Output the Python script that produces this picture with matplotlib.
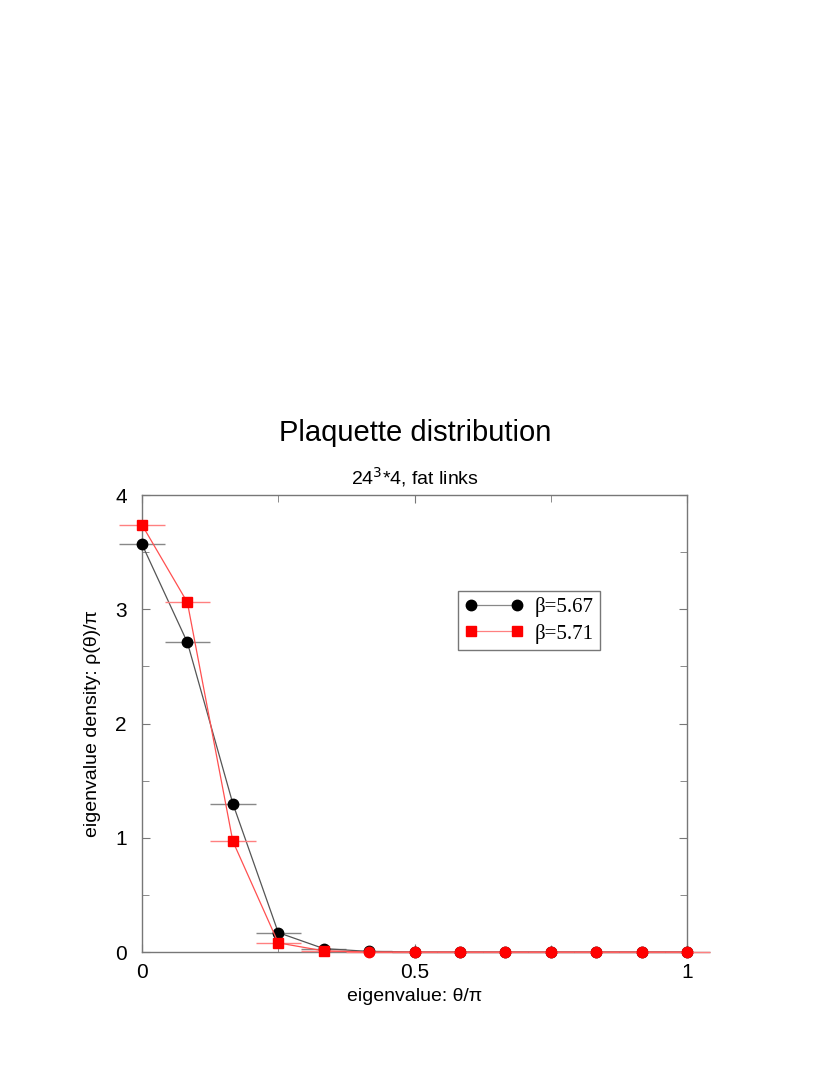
import matplotlib
matplotlib.use("Agg")
import matplotlib.pyplot as plt
from matplotlib.ticker import MultipleLocator
from matplotlib.lines import Line2D

plt.rcParams['font.family'] = ['Liberation Sans', 'DejaVu Sans']

x = [i / 12 for i in range(13)]
rho_567 = [3.57, 2.71, 1.30, 0.17, 0.03, 0.005, 0.0, 0.0, 0.0, 0.0, 0.0, 0.0, 0.0]
rho_571 = [3.74, 3.06, 0.97, 0.08, 0.01, 0.0, 0.0, 0.0, 0.0, 0.0, 0.0, 0.0, 0.0]
xerr = 0.0417
labels = ["β=5.67", "β=5.71"]

fig = plt.figure(figsize=(8.3, 10.75), dpi=100)
ax = fig.add_axes([0.171, 0.1144, 0.657, 0.4251])

ax.errorbar(x, rho_567, xerr=xerr, fmt='none', ecolor='#888888', elinewidth=1, capsize=0, zorder=2, clip_on=False)
ax.plot(x, rho_567, color='#555555', lw=0.9, marker='o', ms=7.5, mfc='black', mec='black',
        zorder=3, clip_on=False)
ax.errorbar(x, rho_571, xerr=xerr, fmt='none', ecolor='#ff8080', elinewidth=1, capsize=0, zorder=4, clip_on=False)
ax.plot(x, rho_571, color='#ff5050', lw=0.9, zorder=5, clip_on=False)
# square markers where distinguishable, round markers where the series sits on zero
ax.plot(x[:5], rho_571[:5], ls='none', marker='s', ms=6.5, mfc='red', mec='red', zorder=6, clip_on=False)
ax.plot(x[5:], rho_571[5:], ls='none', marker='o', ms=7.5, mfc='red', mec='red', zorder=6, clip_on=False)

ax.set_xlim(0, 1)
ax.set_ylim(0, 4)
ax.xaxis.set_major_locator(MultipleLocator(0.5))
ax.xaxis.set_minor_locator(MultipleLocator(0.25))
ax.yaxis.set_major_locator(MultipleLocator(1))
ax.yaxis.set_minor_locator(MultipleLocator(0.5))
ax.xaxis.set_major_formatter(plt.FuncFormatter(lambda v, p: {0: "0", 0.5: "0.5", 1: "1"}.get(round(v, 2), "")))
ax.yaxis.set_major_formatter(plt.FuncFormatter(lambda v, p: f"{int(round(v))}"))
ax.tick_params(which='both', direction='in', top=True, right=True, color='#777777', labelsize=15)
ax.tick_params(axis='x', pad=8)
ax.tick_params(axis='y', pad=11)
ax.tick_params(which='major', length=6)
ax.tick_params(which='minor', length=5)
for s in ax.spines.values():
    s.set_color('#777777')
    s.set_linewidth(1)

ax.set_xlabel("eigenvalue: θ/π", fontsize=14)
ax.set_ylabel("eigenvalue density: ρ(θ)/π", fontsize=14, labelpad=10)

fig.text(0.5, 0.597, "Plaquette distribution", ha='center', va='center', fontsize=21)
fig.text(0.5, 0.556, "24$^{3}$*4, fat links", ha='center', va='center', fontsize=14)

handles = [
    Line2D([], [], color='#888888', lw=0.9, marker='o', ms=7.5, mfc='black', mec='black'),
    Line2D([], [], color='#ff8080', lw=0.9, marker='s', ms=6.5, mfc='red', mec='red'),
]
leg = ax.legend(handles, labels, loc='upper left', bbox_to_anchor=(0.580, 0.790), borderaxespad=0,
                numpoints=2, handlelength=2.8, handletextpad=0.55,
                prop={'family': 'Liberation Serif', 'size': 15}, fancybox=False, framealpha=1,
                edgecolor='#777777', borderpad=0.3, labelspacing=0.3)
leg.get_frame().set_linewidth(1)

fig.savefig("out.png", dpi=100)
